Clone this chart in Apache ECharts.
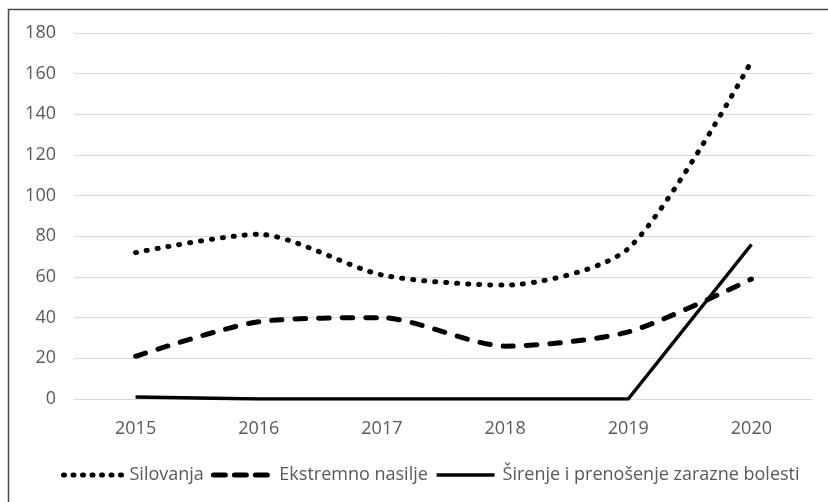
<!DOCTYPE html>
<html>
<head>
<meta charset="utf-8">
<script src="https://cdn.jsdelivr.net/npm/echarts@6/dist/echarts.min.js"></script>
<style>
  html, body { margin: 0; padding: 0; background: #fff; }
  #chart { width: 828px; height: 502px; }
</style>
</head>
<body>
<div id="chart"></div>
<script>
// data
const years = ['2015', '2016', '2017', '2018', '2019', '2020'];
const silovanja = [72, 81, 61, 56, 74, 166];
const ekstremnoNasilje = [21, 38, 40, 26, 33, 59];
const sirenjeBolesti = [1, 0, 0, 0, 0, 76];
const seriesNames = ['Silovanja', 'Ekstremno nasilje', 'Širenje i prenošenje zarazne bolesti'];

const textColor = '#595959';
const fontFamily = '"Open Sans", "Noto Sans", sans-serif';

// line looks, shared by series and legend
const dotted = { color: '#000', width: 5, type: [1, 10], cap: 'round' };
const dashed = { color: '#000', width: 5, type: [10.5, 13], cap: 'round' };
const solid = { color: '#000', width: 3.5, type: 'solid' };

const chart = echarts.init(document.getElementById('chart'));

const option = {
  animation: false,
  backgroundColor: '#fff',
  textStyle: { fontFamily: fontFamily },
  graphic: [
    {
      // outer frame, right and bottom edges fall outside the picture
      type: 'rect',
      shape: { x: 8.5, y: 9.5, width: 840, height: 520 },
      style: { fill: 'none', stroke: '#4a4a4a', lineWidth: 1.5 },
      silent: true
    }
  ],
  grid: { left: 74, right: 15, top: 33, bottom: 103 },
  legend: {
    data: [
      { name: seriesNames[0], lineStyle: { ...dotted, type: [1, 8.5] } },
      { name: seriesNames[1], lineStyle: { ...dashed, type: [12, 9] } },
      { name: seriesNames[2], lineStyle: solid }
    ],
    left: 56,
    top: 461,
    itemWidth: 58,
    itemHeight: 14,
    itemGap: 7,
    itemStyle: { opacity: 0 },
    textStyle: { color: textColor, fontSize: 18, fontFamily: fontFamily, padding: [0, 0, 0, 3] }
  },
  xAxis: {
    type: 'category',
    data: years,
    boundaryGap: true,
    axisLine: { show: true, lineStyle: { color: '#d9d9d9', width: 1 } },
    axisTick: { show: false },
    axisLabel: { color: textColor, fontSize: 18, margin: 21 }
  },
  yAxis: {
    type: 'value',
    min: 0,
    max: 180,
    interval: 20,
    axisLine: { show: false },
    axisTick: { show: false },
    axisLabel: { color: textColor, fontSize: 18, margin: 18 },
    splitLine: { lineStyle: { color: '#d9d9d9', width: 1 } }
  },
  series: [
    {
      name: seriesNames[0],
      type: 'line',
      data: silovanja,
      smooth: 0.25,
      symbol: 'none',
      color: '#000',
      lineStyle: dotted
    },
    {
      name: seriesNames[1],
      type: 'line',
      data: ekstremnoNasilje,
      smooth: 0.25,
      symbol: 'none',
      color: '#000',
      lineStyle: dashed
    },
    {
      name: seriesNames[2],
      type: 'line',
      data: sirenjeBolesti,
      smooth: false,
      symbol: 'none',
      color: '#000',
      lineStyle: solid
    }
  ]
};

chart.setOption(option);
</script>
</body>
</html>
